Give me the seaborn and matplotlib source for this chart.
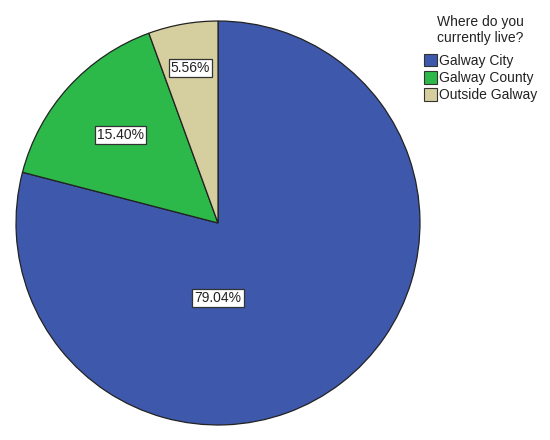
import matplotlib
matplotlib.use("Agg")
import matplotlib.pyplot as plt
import matplotlib.patches as mpatches
import seaborn as sns
import numpy as np

categories = ["Galway City", "Galway County", "Outside Galway"]
percentages = [79.04, 15.40, 5.56]
legend_title = "Where do you\ncurrently live?"
colors_hex = ["#3E58AC", "#2DB84A", "#D5CE9E"]

sns.set_theme(style="white")
plt.rcParams["font.family"] = ["Liberation Sans", "DejaVu Sans"]
palette = sns.color_palette(colors_hex)

fig = plt.figure(figsize=(5.5, 4.4), dpi=100)
ax = fig.add_axes([14/550, 12/440, 408/550, 410/440])

wedges, _ = ax.pie(percentages, colors=palette, startangle=90, counterclock=False,
                   wedgeprops=dict(edgecolor="#222222", linewidth=0.9), radius=1.0)
ax.set_xlim(-1.01, 1.01)
ax.set_ylim(-1.01, 1.01)
ax.set_aspect("equal")
ax.axis("off")

# label placement (fractions of radius) similar to SPSS output
label_dist = [None, 0.65, 0.78]
for i, (w, p) in enumerate(zip(wedges, percentages)):
    if label_dist[i] is None:
        x, y = 0.0, -0.37
    else:
        ang = np.deg2rad((w.theta1 + w.theta2) / 2)
        x, y = label_dist[i] * np.cos(ang), label_dist[i] * np.sin(ang)
    ax.text(x, y, f"{p:.2f}%", ha="center", va="center", fontsize=10, color="#222222",
            bbox=dict(boxstyle="square,pad=0.15", fc="white", ec="#333333", lw=0.9))

handles = [mpatches.Patch(facecolor=c, edgecolor="#333333", linewidth=0.8, label=l)
           for c, l in zip(palette, categories)]
leg = fig.legend(handles=handles, title=legend_title, loc="upper left",
                 bbox_to_anchor=(424/550, 1 - 15/440), frameon=False,
                 fontsize=10, title_fontsize=10, handlelength=0.9, handleheight=1.05,
                 handletextpad=0.15, labelspacing=0.22, borderaxespad=0, borderpad=0,
                 alignment="center")
leg._legend_box.sep = 6
leg.get_title().set_multialignment("center")
leg.get_title().set_color("#222222")
for t in leg.get_texts():
    t.set_color("#222222")

fig.savefig("out.png", dpi=100, facecolor="white")
